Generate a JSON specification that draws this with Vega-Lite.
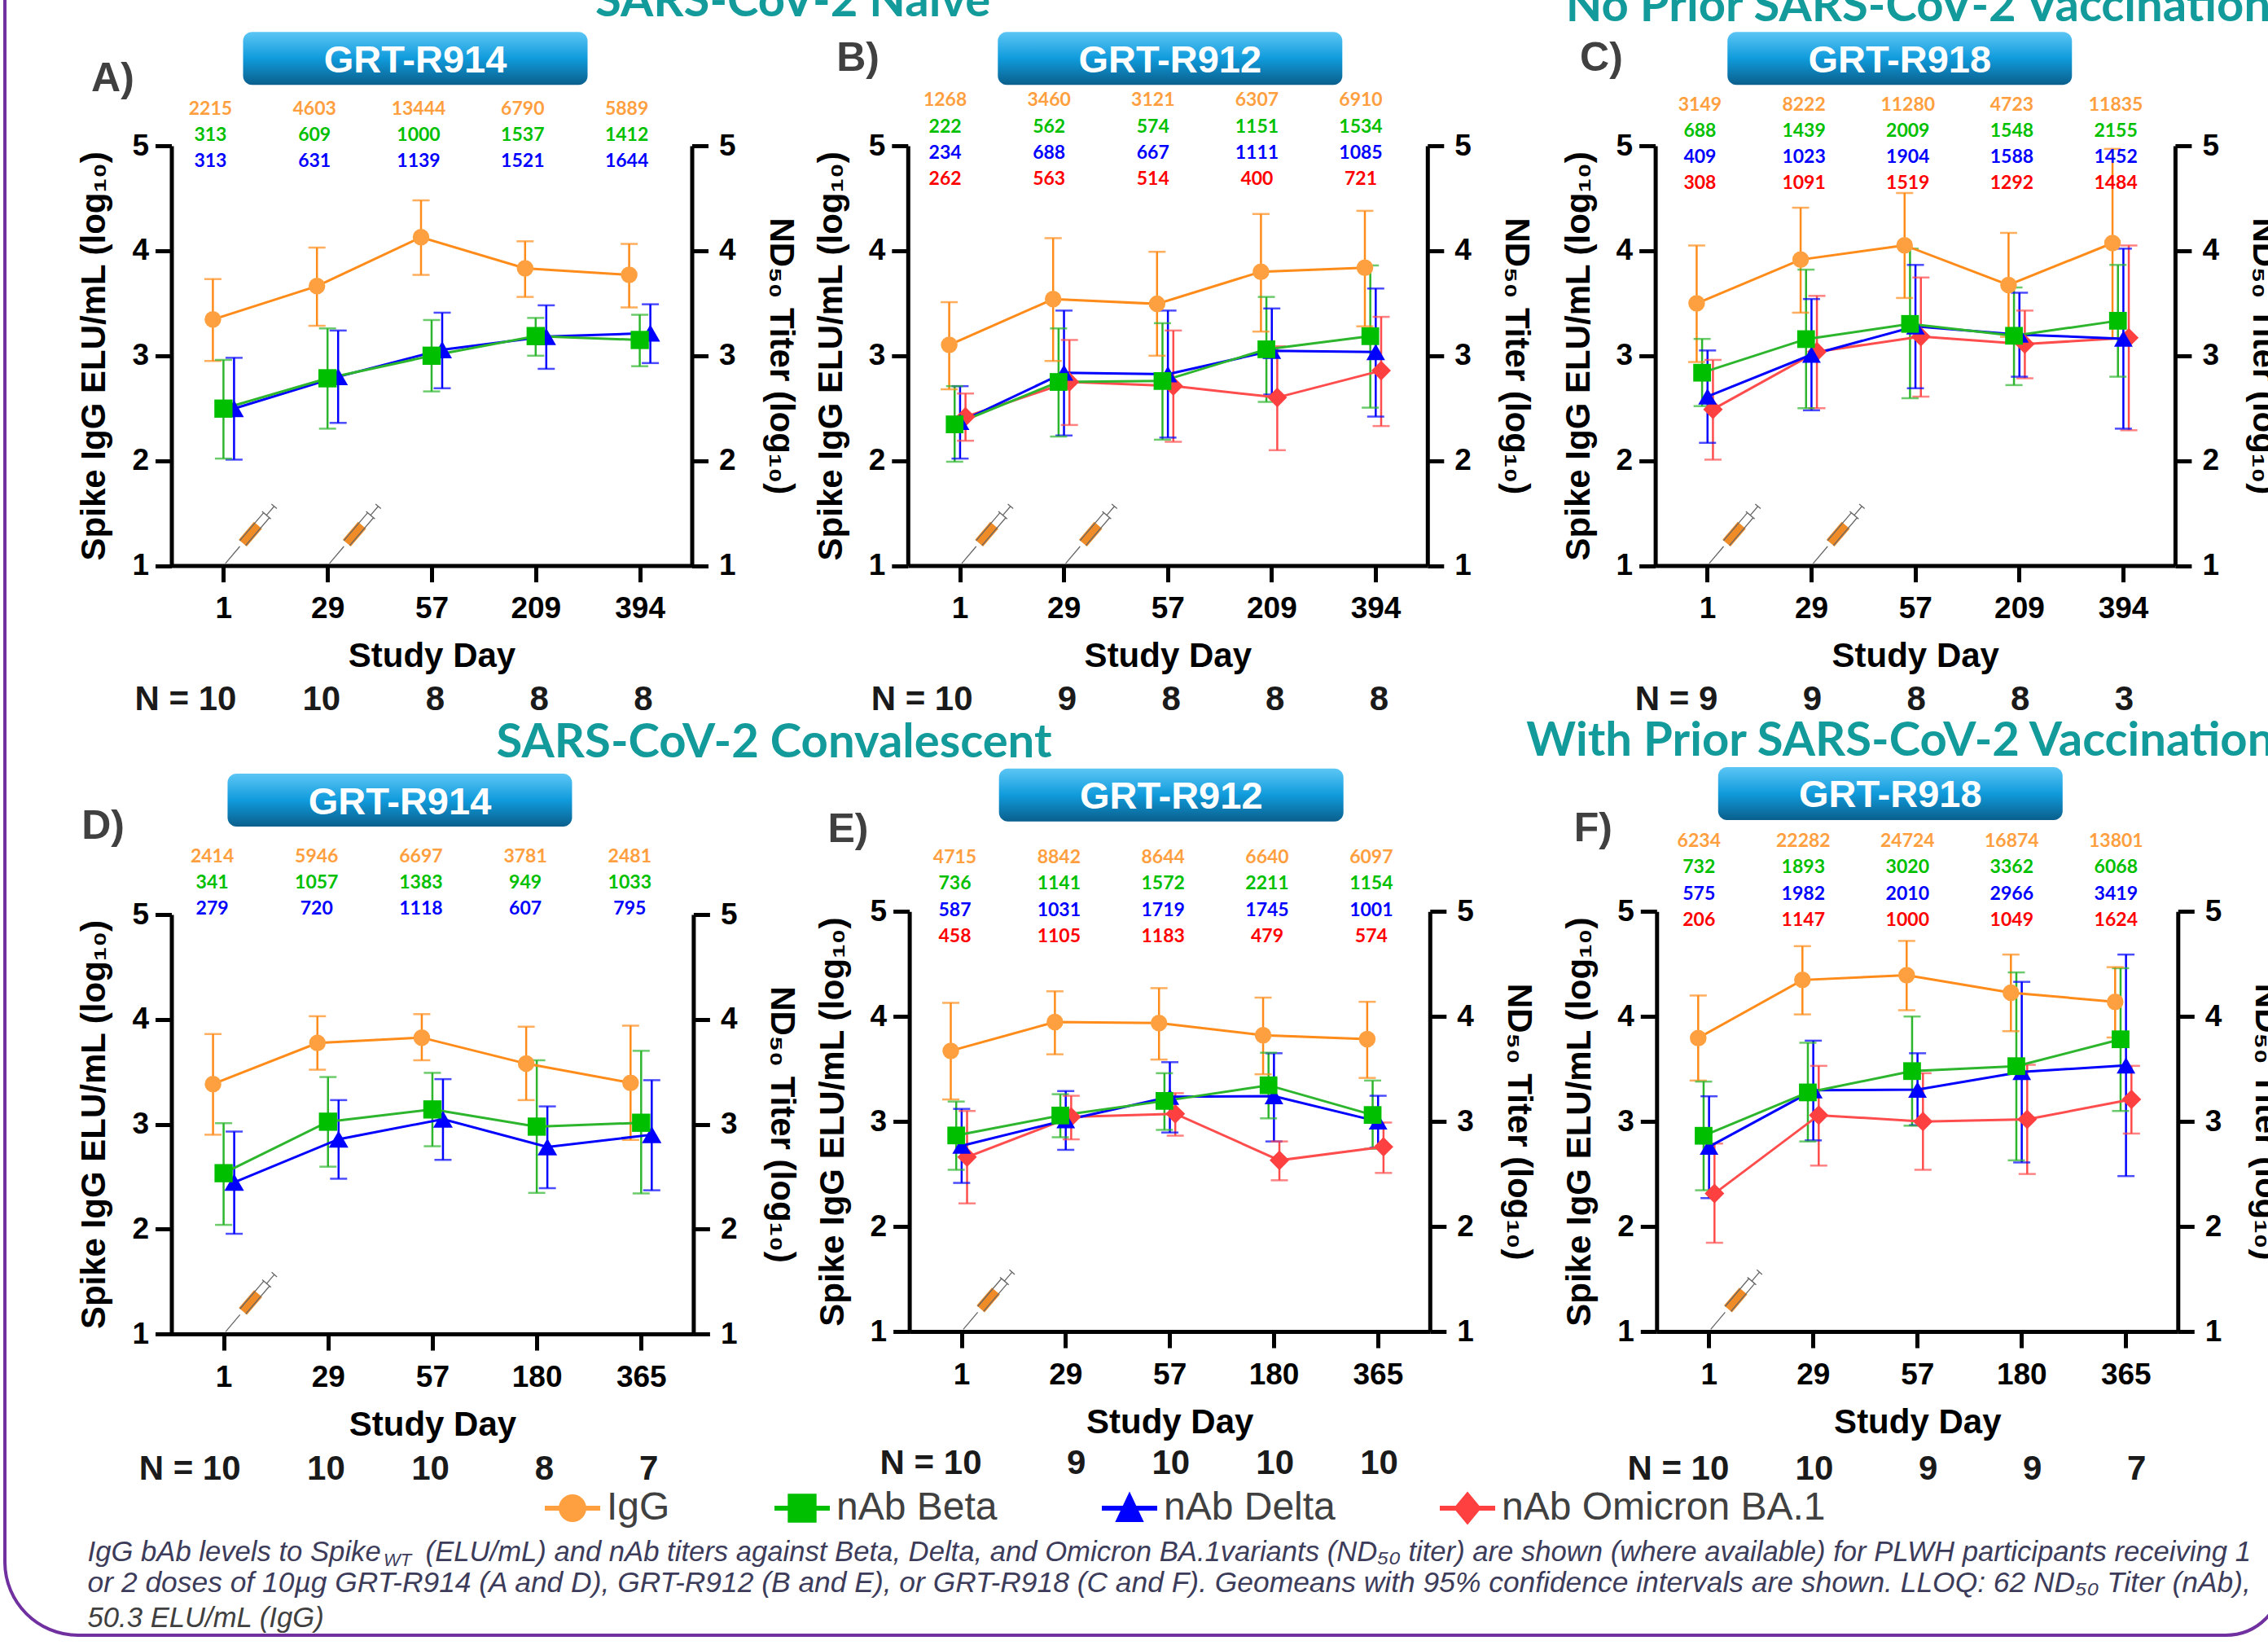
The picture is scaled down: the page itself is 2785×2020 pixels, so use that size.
{"$schema":"https://vega.github.io/schema/vega-lite/v6.json","width":2785,"height":2020,"autosize":"none","padding":0,"background":"white","data":{"values":[{}]},
"config":{"view":{"stroke":null},"font":"Liberation Sans","legend":{"disable":true},"range":{"category":["#FF8C1A","#2DB52D","#0000FF","#FF4D4D"],"symbol":["circle","square","triangle-up","diamond"]},"point":{"opacity":1},"axis":{"grid":false,"domainColor":"black","domainWidth":5,"tickColor":"black","tickWidth":5,"tickSize":20,"labelColor":"black","labelFont":"Liberation Sans","labelFontWeight":"bold","labelFontSize":37,"titleColor":"black","titleFont":"Liberation Sans","titleFontWeight":"bold","titleFontSize":42}},
"datasets":{
"A":[
{"day":1,"s":"nAb Delta","g":2.496,"lo":2.01,"hi":2.98,"gmt":313},{"day":29,"s":"nAb Delta","g":2.8,"lo":2.36,"hi":3.24,"gmt":631},{"day":57,"s":"nAb Delta","g":3.057,"lo":2.69,"hi":3.41,"gmt":1139},{"day":209,"s":"nAb Delta","g":3.182,"lo":2.875,"hi":3.48,"gmt":1521},{"day":394,"s":"nAb Delta","g":3.216,"lo":2.93,"hi":3.49,"gmt":1644},
{"day":1,"s":"nAb Beta","g":2.496,"lo":2.02,"hi":2.96,"gmt":313},{"day":29,"s":"nAb Beta","g":2.785,"lo":2.305,"hi":3.26,"gmt":609},{"day":57,"s":"nAb Beta","g":3,"lo":2.66,"hi":3.34,"gmt":1000},{"day":209,"s":"nAb Beta","g":3.187,"lo":3,"hi":3.36,"gmt":1537},{"day":394,"s":"nAb Beta","g":3.15,"lo":2.9,"hi":3.39,"gmt":1412},
{"day":1,"s":"IgG","g":3.345,"lo":2.95,"hi":3.73,"gmt":2215},{"day":29,"s":"IgG","g":3.663,"lo":3.285,"hi":4.03,"gmt":4603},{"day":57,"s":"IgG","g":4.129,"lo":3.77,"hi":4.48,"gmt":13444},{"day":209,"s":"IgG","g":3.832,"lo":3.56,"hi":4.09,"gmt":6790},{"day":394,"s":"IgG","g":3.77,"lo":3.46,"hi":4.065,"gmt":5889}],
"B":[
{"day":1,"s":"nAb Omicron BA.1","g":2.418,"lo":2.19,"hi":2.64,"gmt":262},{"day":29,"s":"nAb Omicron BA.1","g":2.751,"lo":2.34,"hi":3.15,"gmt":563},{"day":57,"s":"nAb Omicron BA.1","g":2.711,"lo":2.18,"hi":3.24,"gmt":514},{"day":209,"s":"nAb Omicron BA.1","g":2.602,"lo":2.1,"hi":3.09,"gmt":400},{"day":394,"s":"nAb Omicron BA.1","g":2.858,"lo":2.33,"hi":3.37,"gmt":721},
{"day":1,"s":"nAb Delta","g":2.369,"lo":2.02,"hi":2.71,"gmt":234},{"day":29,"s":"nAb Delta","g":2.838,"lo":2.24,"hi":3.43,"gmt":688},{"day":57,"s":"nAb Delta","g":2.824,"lo":2.22,"hi":3.43,"gmt":667},{"day":209,"s":"nAb Delta","g":3.046,"lo":2.63,"hi":3.45,"gmt":1111},{"day":394,"s":"nAb Delta","g":3.035,"lo":2.42,"hi":3.64,"gmt":1085},
{"day":1,"s":"nAb Beta","g":2.346,"lo":1.99,"hi":2.71,"gmt":222},{"day":29,"s":"nAb Beta","g":2.75,"lo":2.23,"hi":3.26,"gmt":562},{"day":57,"s":"nAb Beta","g":2.759,"lo":2.2,"hi":3.31,"gmt":574},{"day":209,"s":"nAb Beta","g":3.061,"lo":2.56,"hi":3.56,"gmt":1151},{"day":394,"s":"nAb Beta","g":3.186,"lo":2.505,"hi":3.86,"gmt":1534},
{"day":1,"s":"IgG","g":3.103,"lo":2.68,"hi":3.51,"gmt":1268},{"day":29,"s":"IgG","g":3.539,"lo":2.95,"hi":4.12,"gmt":3460},{"day":57,"s":"IgG","g":3.494,"lo":3,"hi":3.99,"gmt":3121},{"day":209,"s":"IgG","g":3.8,"lo":3.23,"hi":4.35,"gmt":6307},{"day":394,"s":"IgG","g":3.839,"lo":3.28,"hi":4.38,"gmt":6910}],
"C":[
{"day":1,"s":"nAb Omicron BA.1","g":2.489,"lo":2.01,"hi":2.96,"gmt":308},{"day":29,"s":"nAb Omicron BA.1","g":3.038,"lo":2.5,"hi":3.57,"gmt":1091},{"day":57,"s":"nAb Omicron BA.1","g":3.182,"lo":2.61,"hi":3.745,"gmt":1519},{"day":209,"s":"nAb Omicron BA.1","g":3.111,"lo":2.785,"hi":3.43,"gmt":1292},{"day":394,"s":"nAb Omicron BA.1","g":3.171,"lo":2.29,"hi":4.05,"gmt":1484},
{"day":1,"s":"nAb Delta","g":2.612,"lo":2.17,"hi":3.05,"gmt":409},{"day":29,"s":"nAb Delta","g":3.01,"lo":2.48,"hi":3.54,"gmt":1023},{"day":57,"s":"nAb Delta","g":3.28,"lo":2.69,"hi":3.865,"gmt":1904},{"day":209,"s":"nAb Delta","g":3.201,"lo":2.8,"hi":3.6,"gmt":1588},{"day":394,"s":"nAb Delta","g":3.162,"lo":2.305,"hi":4.02,"gmt":1452},
{"day":1,"s":"nAb Beta","g":2.838,"lo":2.52,"hi":3.16,"gmt":688},{"day":29,"s":"nAb Beta","g":3.158,"lo":2.5,"hi":3.82,"gmt":1439},{"day":57,"s":"nAb Beta","g":3.303,"lo":2.595,"hi":4.02,"gmt":2009},{"day":209,"s":"nAb Beta","g":3.19,"lo":2.72,"hi":3.65,"gmt":1548},{"day":394,"s":"nAb Beta","g":3.333,"lo":2.8,"hi":3.865,"gmt":2155},
{"day":1,"s":"IgG","g":3.498,"lo":2.94,"hi":4.05,"gmt":3149},{"day":29,"s":"IgG","g":3.915,"lo":3.41,"hi":4.41,"gmt":8222},{"day":57,"s":"IgG","g":4.052,"lo":3.55,"hi":4.55,"gmt":11280},{"day":209,"s":"IgG","g":3.674,"lo":3.18,"hi":4.17,"gmt":4723},{"day":394,"s":"IgG","g":4.073,"lo":3.165,"hi":4.97,"gmt":11835}],
"D":[
{"day":1,"s":"nAb Delta","g":2.446,"lo":1.955,"hi":2.93,"gmt":279},{"day":29,"s":"nAb Delta","g":2.857,"lo":2.48,"hi":3.23,"gmt":720},{"day":57,"s":"nAb Delta","g":3.048,"lo":2.66,"hi":3.43,"gmt":1118},{"day":180,"s":"nAb Delta","g":2.783,"lo":2.39,"hi":3.17,"gmt":607},{"day":365,"s":"nAb Delta","g":2.9,"lo":2.37,"hi":3.42,"gmt":795},
{"day":1,"s":"nAb Beta","g":2.533,"lo":2.04,"hi":3.01,"gmt":341},{"day":29,"s":"nAb Beta","g":3.024,"lo":2.595,"hi":3.45,"gmt":1057},{"day":57,"s":"nAb Beta","g":3.141,"lo":2.79,"hi":3.49,"gmt":1383},{"day":180,"s":"nAb Beta","g":2.977,"lo":2.345,"hi":3.61,"gmt":949},{"day":365,"s":"nAb Beta","g":3.014,"lo":2.34,"hi":3.7,"gmt":1033},
{"day":1,"s":"IgG","g":3.383,"lo":2.9,"hi":3.86,"gmt":2414},{"day":29,"s":"IgG","g":3.774,"lo":3.52,"hi":4.03,"gmt":5946},{"day":57,"s":"IgG","g":3.826,"lo":3.61,"hi":4.05,"gmt":6697},{"day":180,"s":"IgG","g":3.578,"lo":3.23,"hi":3.93,"gmt":3781},{"day":365,"s":"IgG","g":3.395,"lo":2.85,"hi":3.94,"gmt":2481}],
"E":[
{"day":1,"s":"nAb Omicron BA.1","g":2.661,"lo":2.22,"hi":3.1,"gmt":458},{"day":29,"s":"nAb Omicron BA.1","g":3.043,"lo":2.83,"hi":3.245,"gmt":1105},{"day":57,"s":"nAb Omicron BA.1","g":3.073,"lo":2.865,"hi":3.27,"gmt":1183},{"day":180,"s":"nAb Omicron BA.1","g":2.63,"lo":2.44,"hi":2.81,"gmt":479},{"day":365,"s":"nAb Omicron BA.1","g":2.759,"lo":2.51,"hi":2.99,"gmt":574},
{"day":1,"s":"nAb Delta","g":2.769,"lo":2.415,"hi":3.12,"gmt":587},{"day":29,"s":"nAb Delta","g":3.013,"lo":2.73,"hi":3.29,"gmt":1031},{"day":57,"s":"nAb Delta","g":3.235,"lo":2.895,"hi":3.565,"gmt":1719},{"day":180,"s":"nAb Delta","g":3.242,"lo":2.81,"hi":3.65,"gmt":1745},{"day":365,"s":"nAb Delta","g":3,"lo":2.75,"hi":3.245,"gmt":1001},
{"day":1,"s":"nAb Beta","g":2.867,"lo":2.54,"hi":3.19,"gmt":736},{"day":29,"s":"nAb Beta","g":3.057,"lo":2.85,"hi":3.26,"gmt":1141},{"day":57,"s":"nAb Beta","g":3.196,"lo":2.92,"hi":3.46,"gmt":1572},{"day":180,"s":"nAb Beta","g":3.345,"lo":3.03,"hi":3.655,"gmt":2211},{"day":365,"s":"nAb Beta","g":3.062,"lo":2.74,"hi":3.39,"gmt":1154},
{"day":1,"s":"IgG","g":3.673,"lo":3.21,"hi":4.13,"gmt":4715},{"day":29,"s":"IgG","g":3.947,"lo":3.64,"hi":4.24,"gmt":8842},{"day":57,"s":"IgG","g":3.937,"lo":3.59,"hi":4.27,"gmt":8644},{"day":180,"s":"IgG","g":3.822,"lo":3.45,"hi":4.18,"gmt":6640},{"day":365,"s":"IgG","g":3.785,"lo":3.415,"hi":4.14,"gmt":6097}],
"F":[
{"day":1,"s":"nAb Omicron BA.1","g":2.314,"lo":1.845,"hi":2.79,"gmt":206},{"day":29,"s":"nAb Omicron BA.1","g":3.06,"lo":2.58,"hi":3.53,"gmt":1147},{"day":57,"s":"nAb Omicron BA.1","g":3,"lo":2.54,"hi":3.46,"gmt":1000},{"day":180,"s":"nAb Omicron BA.1","g":3.021,"lo":2.5,"hi":3.54,"gmt":1049},{"day":365,"s":"nAb Omicron BA.1","g":3.21,"lo":2.885,"hi":3.53,"gmt":1624},
{"day":1,"s":"nAb Delta","g":2.76,"lo":2.27,"hi":3.24,"gmt":575},{"day":29,"s":"nAb Delta","g":3.297,"lo":2.82,"hi":3.77,"gmt":1982},{"day":57,"s":"nAb Delta","g":3.303,"lo":2.965,"hi":3.65,"gmt":2010},{"day":180,"s":"nAb Delta","g":3.472,"lo":2.61,"hi":4.33,"gmt":2966},{"day":365,"s":"nAb Delta","g":3.534,"lo":2.48,"hi":4.59,"gmt":3419},
{"day":1,"s":"nAb Beta","g":2.864,"lo":2.345,"hi":3.38,"gmt":732},{"day":29,"s":"nAb Beta","g":3.277,"lo":2.81,"hi":3.75,"gmt":1893},{"day":57,"s":"nAb Beta","g":3.48,"lo":2.96,"hi":4,"gmt":3020},{"day":180,"s":"nAb Beta","g":3.527,"lo":2.63,"hi":4.42,"gmt":3362},{"day":365,"s":"nAb Beta","g":3.783,"lo":3.1,"hi":4.46,"gmt":6068},
{"day":1,"s":"IgG","g":3.795,"lo":3.39,"hi":4.2,"gmt":6234},{"day":29,"s":"IgG","g":4.348,"lo":4.02,"hi":4.67,"gmt":22282},{"day":57,"s":"IgG","g":4.393,"lo":4.06,"hi":4.72,"gmt":24724},{"day":180,"s":"IgG","g":4.227,"lo":3.86,"hi":4.59,"gmt":16874},{"day":365,"s":"IgG","g":4.14,"lo":3.8,"hi":4.47,"gmt":13801}]
},
"layer":[
{"mark":{"type":"rect","fillOpacity":0,"stroke":"#7030A0","strokeWidth":4,"cornerRadiusBottomLeft":90,"cornerRadiusBottomRight":70},"encoding":{"x":{"datum":0,"type":"quantitative","scale":{"domain":[0,1],"range":[6,2803]},"axis":null},"x2":{"datum":1},"y":{"datum":1,"type":"quantitative","scale":{"domain":[0,1],"range":[2008,-20]},"axis":null},"y2":{"datum":0}}},

{"encoding":{"x":{"field":"day","type":"ordinal","scale":{"type":"point","padding":0.5,"domain":[1,29,57,209,394],"range":[210.5,849.5]},"axis":{"orient":"bottom","title":"Study Day","labelAngle":0,"offset":-1325.4,"labelPadding":15,"titlePadding":20}}},
"layer":[
{"layer":[
{"data":{"name":"A"},"encoding":{"xOffset":{"field":"s","type":"nominal","scale":{"type":"point","padding":0,"range":[-13,13]}},"color":{"field":"s","type":"nominal"}},"layer":[
{"mark":{"type":"rule","strokeWidth":2.5},"encoding":{"y":{"field":"lo","type":"quantitative","scale":{"domain":[1,5],"range":[694.6,179],"zero":false,"nice":false},"axis":{"orient":"left","title":"Spike IgG ELU/mL (log₁₀)","format":"d","values":[1,2,3,4,5],"offset":-210.5,"labelPadding":8,"titlePadding":24}},"y2":{"field":"hi"}}},
{"mark":{"type":"tick","orient":"horizontal","size":21,"thickness":2.5},"encoding":{"y":{"field":"lo","type":"quantitative"}}},
{"mark":{"type":"tick","orient":"horizontal","size":21,"thickness":2.5},"encoding":{"y":{"field":"hi","type":"quantitative"}}},
{"mark":{"type":"line","strokeWidth":3},"encoding":{"y":{"field":"g","type":"quantitative"}}},
{"mark":{"type":"point","filled":true,"strokeWidth":0},"encoding":{"y":{"field":"g","type":"quantitative"},"color":null,"fill":{"field":"s","type":"nominal","scale":{"range":["#FFA040","#00BF00","#0000FF","#FF4040"]}},"shape":{"field":"s","type":"nominal"},"size":{"field":"s","type":"nominal","scale":{"range":[420,580,650,560]}}}}]},
{"data":{"values":[{"day":1},{"day":29}]},"mark":{"type":"point","shape":"M-.397 .187L-.123 .421L.397 -.187L.123 -.421Z","filled":true,"fill":"#F08C28","strokeWidth":0,"size":5184,"xOffset":33},"encoding":{"y":{"datum":1.3,"type":"quantitative"}}},
{"data":{"values":[{"day":1},{"day":29}]},"mark":{"type":"point","shape":"M-.85 1L-.358 .418M-.161 .389L.65 -.56L.4535 -.73L-.359 .22M.5525 -.646L.8125 -.95M.904 -.872L.721 -1.028M.7 -.516L.4 -.776","filled":false,"stroke":"#666666","strokeWidth":1.3,"size":5184,"xOffset":33},"encoding":{"y":{"datum":1.3,"type":"quantitative"}}},
{"data":{"values":[{"day":1,"n":"N = 10"},{"day":29,"n":"10"},{"day":57,"n":"8"},{"day":209,"n":"8"},{"day":394,"n":"8"}]},"mark":{"type":"text","align":"right","dx":16,"fontSize":42,"fontWeight":"bold","color":"#1A1A1A"},"encoding":{"y":{"datum":-0.276,"type":"quantitative"},"text":{"field":"n"}}},
{"mark":{"type":"text","text":"A)","dx":-136,"fontSize":50,"fontWeight":"bold","color":"#404040"},"encoding":{"x":{"datum":1,"type":"ordinal"},"y":{"datum":5.64,"type":"quantitative"}}},
{"mark":{"type":"rect","width":423,"height":65,"xOffset":-20,"cornerRadius":11,"fill":{"x1":0,"y1":0,"x2":0,"y2":1,"gradient":"linear","stops":[{"offset":0,"color":"#5CC6F5"},{"offset":0.5,"color":"#109BDC"},{"offset":1,"color":"#0A5F8C"}]}},"encoding":{"x":{"datum":57,"type":"ordinal"},"y":{"datum":5.833,"type":"quantitative"}}},
{"mark":{"type":"text","text":"GRT-R914","dx":-20,"dy":3,"fontSize":47,"fontWeight":"bold","color":"white"},"encoding":{"x":{"datum":57,"type":"ordinal"},"y":{"datum":5.833,"type":"quantitative"}}}
]},
{"data":{"name":"A"},"mark":{"type":"text","dx":-16,"fontSize":23,"font":"Lato","fontWeight":"bold"},"encoding":{"y":{"field":"s","type":"nominal","scale":{"type":"point","padding":0,"range":[133.8,198]},"axis":null},"text":{"field":"gmt","type":"nominal"},"color":{"field":"s","type":"nominal","scale":{"range":["#FF9F40","#00C000","#0000FF","#FF0000"]}}}},
{"mark":{"type":"point","opacity":0},"encoding":{"x":{"datum":1,"type":"ordinal"},"y":{"datum":1,"type":"quantitative","scale":{"domain":[1,5],"range":[694.6,179]},"axis":{"orient":"right","title":"ND₅₀ Titer (log₁₀)","values":[1,2,3,4,5],"offset":-1935.5,"labelPadding":13,"titlePadding":33}}}}
],"resolve":{"scale":{"y":"independent","color":"independent"},"axis":{"y":"independent"}}},

{"encoding":{"x":{"field":"day","type":"ordinal","scale":{"type":"point","padding":0.5,"domain":[1,29,57,209,394],"range":[1114.8,1752.8]},"axis":{"orient":"bottom","title":"Study Day","labelAngle":0,"offset":-1325.4,"labelPadding":15,"titlePadding":20}}},
"layer":[
{"layer":[
{"data":{"name":"B"},"encoding":{"xOffset":{"field":"s","type":"nominal","scale":{"type":"point","padding":0,"range":[-13,7]}},"color":{"field":"s","type":"nominal"}},"layer":[
{"mark":{"type":"rule","strokeWidth":2.5},"encoding":{"y":{"field":"lo","type":"quantitative","scale":{"domain":[1,5],"range":[694.6,179],"zero":false,"nice":false},"axis":{"orient":"left","title":"Spike IgG ELU/mL (log₁₀)","format":"d","values":[1,2,3,4,5],"offset":-1114.8,"labelPadding":8,"titlePadding":24}},"y2":{"field":"hi"}}},
{"mark":{"type":"tick","orient":"horizontal","size":21,"thickness":2.5},"encoding":{"y":{"field":"lo","type":"quantitative"}}},
{"mark":{"type":"tick","orient":"horizontal","size":21,"thickness":2.5},"encoding":{"y":{"field":"hi","type":"quantitative"}}},
{"mark":{"type":"line","strokeWidth":3},"encoding":{"y":{"field":"g","type":"quantitative"}}},
{"mark":{"type":"point","filled":true,"strokeWidth":0},"encoding":{"y":{"field":"g","type":"quantitative"},"color":null,"fill":{"field":"s","type":"nominal","scale":{"range":["#FFA040","#00BF00","#0000FF","#FF4040"]}},"shape":{"field":"s","type":"nominal"},"size":{"field":"s","type":"nominal","scale":{"range":[420,580,650,560]}}}}]},
{"data":{"values":[{"day":1},{"day":29}]},"mark":{"type":"point","shape":"M-.397 .187L-.123 .421L.397 -.187L.123 -.421Z","filled":true,"fill":"#F08C28","strokeWidth":0,"size":5184,"xOffset":33},"encoding":{"y":{"datum":1.3,"type":"quantitative"}}},
{"data":{"values":[{"day":1},{"day":29}]},"mark":{"type":"point","shape":"M-.85 1L-.358 .418M-.161 .389L.65 -.56L.4535 -.73L-.359 .22M.5525 -.646L.8125 -.95M.904 -.872L.721 -1.028M.7 -.516L.4 -.776","filled":false,"stroke":"#666666","strokeWidth":1.3,"size":5184,"xOffset":33},"encoding":{"y":{"datum":1.3,"type":"quantitative"}}},
{"data":{"values":[{"day":1,"n":"N = 10"},{"day":29,"n":"9"},{"day":57,"n":"8"},{"day":209,"n":"8"},{"day":394,"n":"8"}]},"mark":{"type":"text","align":"right","dx":16,"fontSize":42,"fontWeight":"bold","color":"#1A1A1A"},"encoding":{"y":{"datum":-0.276,"type":"quantitative"},"text":{"field":"n"}}},
{"mark":{"type":"text","text":"B)","dx":-125,"fontSize":50,"fontWeight":"bold","color":"#404040"},"encoding":{"x":{"datum":1,"type":"ordinal"},"y":{"datum":5.833,"type":"quantitative"}}},
{"mark":{"type":"rect","width":423,"height":65,"xOffset":3,"cornerRadius":11,"fill":{"x1":0,"y1":0,"x2":0,"y2":1,"gradient":"linear","stops":[{"offset":0,"color":"#5CC6F5"},{"offset":0.5,"color":"#109BDC"},{"offset":1,"color":"#0A5F8C"}]}},"encoding":{"x":{"datum":57,"type":"ordinal"},"y":{"datum":5.833,"type":"quantitative"}}},
{"mark":{"type":"text","text":"GRT-R912","dx":3,"dy":3,"fontSize":47,"fontWeight":"bold","color":"white"},"encoding":{"x":{"datum":57,"type":"ordinal"},"y":{"datum":5.833,"type":"quantitative"}}},
{"mark":{"type":"text","text":"SARS-CoV-2 Naive","dx":-205,"baseline":"alphabetic","font":"Lato","fontSize":58,"fontWeight":"bold","color":"#139B9B"},"encoding":{"x":{"datum":1,"type":"ordinal"},"y":{"datum":6.235,"type":"quantitative"}}}
]},
{"data":{"name":"B"},"mark":{"type":"text","dx":-18,"fontSize":23,"font":"Lato","fontWeight":"bold"},"encoding":{"y":{"field":"s","type":"nominal","scale":{"type":"point","padding":0,"range":[123.4,219.9]},"axis":null},"text":{"field":"gmt","type":"nominal"},"color":{"field":"s","type":"nominal","scale":{"range":["#FF9F40","#00C000","#0000FF","#FF0000"]}}}},
{"mark":{"type":"point","opacity":0},"encoding":{"x":{"datum":1,"type":"ordinal"},"y":{"datum":1,"type":"quantitative","scale":{"domain":[1,5],"range":[694.6,179]},"axis":{"orient":"right","title":"ND₅₀ Titer (log₁₀)","values":[1,2,3,4,5],"offset":-1032.2,"labelPadding":13,"titlePadding":33}}}}
],"resolve":{"scale":{"y":"independent","color":"independent"},"axis":{"y":"independent"}}},

{"encoding":{"x":{"field":"day","type":"ordinal","scale":{"type":"point","padding":0.5,"domain":[1,29,57,209,394],"range":[2032.6,2670.9]},"axis":{"orient":"bottom","title":"Study Day","labelAngle":0,"offset":-1325.4,"labelPadding":15,"titlePadding":20}}},
"layer":[
{"layer":[
{"data":{"name":"C"},"encoding":{"xOffset":{"field":"s","type":"nominal","scale":{"type":"point","padding":0,"range":[-13,7]}},"color":{"field":"s","type":"nominal"}},"layer":[
{"mark":{"type":"rule","strokeWidth":2.5},"encoding":{"y":{"field":"lo","type":"quantitative","scale":{"domain":[1,5],"range":[694.6,179],"zero":false,"nice":false},"axis":{"orient":"left","title":"Spike IgG ELU/mL (log₁₀)","format":"d","values":[1,2,3,4,5],"offset":-2032.6,"labelPadding":8,"titlePadding":24}},"y2":{"field":"hi"}}},
{"mark":{"type":"tick","orient":"horizontal","size":21,"thickness":2.5},"encoding":{"y":{"field":"lo","type":"quantitative"}}},
{"mark":{"type":"tick","orient":"horizontal","size":21,"thickness":2.5},"encoding":{"y":{"field":"hi","type":"quantitative"}}},
{"mark":{"type":"line","strokeWidth":3},"encoding":{"y":{"field":"g","type":"quantitative"}}},
{"mark":{"type":"point","filled":true,"strokeWidth":0},"encoding":{"y":{"field":"g","type":"quantitative"},"color":null,"fill":{"field":"s","type":"nominal","scale":{"range":["#FFA040","#00BF00","#0000FF","#FF4040"]}},"shape":{"field":"s","type":"nominal"},"size":{"field":"s","type":"nominal","scale":{"range":[420,580,650,560]}}}}]},
{"data":{"values":[{"day":1},{"day":29}]},"mark":{"type":"point","shape":"M-.397 .187L-.123 .421L.397 -.187L.123 -.421Z","filled":true,"fill":"#F08C28","strokeWidth":0,"size":5184,"xOffset":33},"encoding":{"y":{"datum":1.3,"type":"quantitative"}}},
{"data":{"values":[{"day":1},{"day":29}]},"mark":{"type":"point","shape":"M-.85 1L-.358 .418M-.161 .389L.65 -.56L.4535 -.73L-.359 .22M.5525 -.646L.8125 -.95M.904 -.872L.721 -1.028M.7 -.516L.4 -.776","filled":false,"stroke":"#666666","strokeWidth":1.3,"size":5184,"xOffset":33},"encoding":{"y":{"datum":1.3,"type":"quantitative"}}},
{"data":{"values":[{"day":1,"n":"N = 9"},{"day":29,"n":"9"},{"day":57,"n":"8"},{"day":209,"n":"8"},{"day":394,"n":"3"}]},"mark":{"type":"text","align":"right","dx":13,"fontSize":42,"fontWeight":"bold","color":"#1A1A1A"},"encoding":{"y":{"datum":-0.276,"type":"quantitative"},"text":{"field":"n"}}},
{"mark":{"type":"text","text":"C)","dx":-130,"fontSize":50,"fontWeight":"bold","color":"#404040"},"encoding":{"x":{"datum":1,"type":"ordinal"},"y":{"datum":5.833,"type":"quantitative"}}},
{"mark":{"type":"rect","width":423,"height":65,"xOffset":-19,"cornerRadius":11,"fill":{"x1":0,"y1":0,"x2":0,"y2":1,"gradient":"linear","stops":[{"offset":0,"color":"#5CC6F5"},{"offset":0.5,"color":"#109BDC"},{"offset":1,"color":"#0A5F8C"}]}},"encoding":{"x":{"datum":57,"type":"ordinal"},"y":{"datum":5.833,"type":"quantitative"}}},
{"mark":{"type":"text","text":"GRT-R918","dx":-19,"dy":3,"fontSize":47,"fontWeight":"bold","color":"white"},"encoding":{"x":{"datum":57,"type":"ordinal"},"y":{"datum":5.833,"type":"quantitative"}}},
{"mark":{"type":"text","text":"No Prior SARS-CoV-2 Vaccination","align":"left","dx":-173.8,"baseline":"alphabetic","font":"Lato","fontSize":58,"fontWeight":"bold","color":"#139B9B"},"encoding":{"x":{"datum":1,"type":"ordinal"},"y":{"datum":6.19,"type":"quantitative"}}}
]},
{"data":{"name":"C"},"mark":{"type":"text","dx":-9,"fontSize":23,"font":"Lato","fontWeight":"bold"},"encoding":{"y":{"field":"s","type":"nominal","scale":{"type":"point","padding":0,"range":[128.5,225]},"axis":null},"text":{"field":"gmt","type":"nominal"},"color":{"field":"s","type":"nominal","scale":{"range":["#FF9F40","#00C000","#0000FF","#FF0000"]}}}},
{"mark":{"type":"point","opacity":0},"encoding":{"x":{"datum":1,"type":"ordinal"},"y":{"datum":1,"type":"quantitative","scale":{"domain":[1,5],"range":[694.6,179]},"axis":{"orient":"right","title":"ND₅₀ Titer (log₁₀)","values":[1,2,3,4,5],"offset":-114.1,"labelPadding":13,"titlePadding":33}}}}
],"resolve":{"scale":{"y":"independent","color":"independent"},"axis":{"y":"independent"}}},

{"encoding":{"x":{"field":"day","type":"ordinal","scale":{"type":"point","padding":0.5,"domain":[1,29,57,180,365],"range":[210.5,851.4]},"axis":{"orient":"bottom","title":"Study Day","labelAngle":0,"offset":-382,"labelPadding":15,"titlePadding":20}}},
"layer":[
{"layer":[
{"data":{"name":"D"},"encoding":{"xOffset":{"field":"s","type":"nominal","scale":{"type":"point","padding":0,"range":[-13,13]}},"color":{"field":"s","type":"nominal"}},"layer":[
{"mark":{"type":"rule","strokeWidth":2.5},"encoding":{"y":{"field":"lo","type":"quantitative","scale":{"domain":[1,5],"range":[1638,1123],"zero":false,"nice":false},"axis":{"orient":"left","title":"Spike IgG ELU/mL (log₁₀)","format":"d","values":[1,2,3,4,5],"offset":-210.5,"labelPadding":8,"titlePadding":24}},"y2":{"field":"hi"}}},
{"mark":{"type":"tick","orient":"horizontal","size":21,"thickness":2.5},"encoding":{"y":{"field":"lo","type":"quantitative"}}},
{"mark":{"type":"tick","orient":"horizontal","size":21,"thickness":2.5},"encoding":{"y":{"field":"hi","type":"quantitative"}}},
{"mark":{"type":"line","strokeWidth":3},"encoding":{"y":{"field":"g","type":"quantitative"}}},
{"mark":{"type":"point","filled":true,"strokeWidth":0},"encoding":{"y":{"field":"g","type":"quantitative"},"color":null,"fill":{"field":"s","type":"nominal","scale":{"range":["#FFA040","#00BF00","#0000FF","#FF4040"]}},"shape":{"field":"s","type":"nominal"},"size":{"field":"s","type":"nominal","scale":{"range":[420,580,650,560]}}}}]},
{"data":{"values":[{"day":1}]},"mark":{"type":"point","shape":"M-.397 .187L-.123 .421L.397 -.187L.123 -.421Z","filled":true,"fill":"#F08C28","strokeWidth":0,"size":5184,"xOffset":33},"encoding":{"y":{"datum":1.3,"type":"quantitative"}}},
{"data":{"values":[{"day":1}]},"mark":{"type":"point","shape":"M-.85 1L-.358 .418M-.161 .389L.65 -.56L.4535 -.73L-.359 .22M.5525 -.646L.8125 -.95M.904 -.872L.721 -1.028M.7 -.516L.4 -.776","filled":false,"stroke":"#666666","strokeWidth":1.3,"size":5184,"xOffset":33},"encoding":{"y":{"datum":1.3,"type":"quantitative"}}},
{"data":{"values":[{"day":1,"n":"N = 10"},{"day":29,"n":"10"},{"day":57,"n":"10"},{"day":180,"n":"8"},{"day":365,"n":"7"}]},"mark":{"type":"text","align":"right","dx":21,"fontSize":42,"fontWeight":"bold","color":"#1A1A1A"},"encoding":{"y":{"datum":-0.289,"type":"quantitative"},"text":{"field":"n"}}},
{"mark":{"type":"text","text":"D)","dx":-148,"fontSize":50,"fontWeight":"bold","color":"#404040"},"encoding":{"x":{"datum":1,"type":"ordinal"},"y":{"datum":5.84,"type":"quantitative"}}},
{"mark":{"type":"rect","width":423,"height":65,"xOffset":-40,"cornerRadius":11,"fill":{"x1":0,"y1":0,"x2":0,"y2":1,"gradient":"linear","stops":[{"offset":0,"color":"#5CC6F5"},{"offset":0.5,"color":"#109BDC"},{"offset":1,"color":"#0A5F8C"}]}},"encoding":{"x":{"datum":57,"type":"ordinal"},"y":{"datum":6.091,"type":"quantitative"}}},
{"mark":{"type":"text","text":"GRT-R914","dx":-40,"dy":3,"fontSize":47,"fontWeight":"bold","color":"white"},"encoding":{"x":{"datum":57,"type":"ordinal"},"y":{"datum":6.091,"type":"quantitative"}}},
{"mark":{"type":"text","text":"IgG bAb levels to Spike","align":"left","baseline":"alphabetic","dx":-167,"fontSize":34.65,"fontStyle":"italic","color":"#3C3C5A"},"encoding":{"x":{"datum":1,"type":"ordinal"},"y":{"datum":-1.167,"type":"quantitative"}}},
{"mark":{"type":"text","text":"WT","align":"left","baseline":"alphabetic","dx":196.5,"fontSize":22,"fontStyle":"italic","color":"#3C3C5A"},"encoding":{"x":{"datum":1,"type":"ordinal"},"y":{"datum":-1.213,"type":"quantitative"}}},
{"mark":{"type":"text","text":"(ELU/mL) and nAb titers against Beta, Delta, and Omicron BA.1variants (ND₅₀ titer) are shown (where available) for PLWH participants receiving 1","align":"left","baseline":"alphabetic","dx":248,"fontSize":34.65,"fontStyle":"italic","color":"#3C3C5A"},"encoding":{"x":{"datum":1,"type":"ordinal"},"y":{"datum":-1.167,"type":"quantitative"}}},
{"mark":{"type":"text","text":"or 2 doses of 10µg GRT-R914 (A and D), GRT-R912 (B and E), or GRT-R918 (C and F). Geomeans with 95% confidence intervals are shown. LLOQ: 62 ND₅₀ Titer (nAb),","align":"left","baseline":"alphabetic","dx":-167,"fontSize":35.4,"fontStyle":"italic","color":"#3C3C5A"},"encoding":{"x":{"datum":1,"type":"ordinal"},"y":{"datum":-1.462,"type":"quantitative"}}},
{"mark":{"type":"text","text":"50.3 ELU/mL (IgG)","align":"left","baseline":"alphabetic","dx":-167,"fontSize":34.65,"fontStyle":"italic","color":"#404040"},"encoding":{"x":{"datum":1,"type":"ordinal"},"y":{"datum":-1.796,"type":"quantitative"}}}
]},
{"data":{"name":"D"},"mark":{"type":"text","dx":-14,"fontSize":23,"font":"Lato","fontWeight":"bold"},"encoding":{"y":{"field":"s","type":"nominal","scale":{"type":"point","padding":0,"range":[1052,1116.3]},"axis":null},"text":{"field":"gmt","type":"nominal"},"color":{"field":"s","type":"nominal","scale":{"range":["#FF9F40","#00C000","#0000FF","#FF0000"]}}}},
{"mark":{"type":"point","opacity":0},"encoding":{"x":{"datum":1,"type":"ordinal"},"y":{"datum":1,"type":"quantitative","scale":{"domain":[1,5],"range":[1638,1123]},"axis":{"orient":"right","title":"ND₅₀ Titer (log₁₀)","values":[1,2,3,4,5],"offset":-1933.6,"labelPadding":13,"titlePadding":33}}}}
],"resolve":{"scale":{"y":"independent","color":"independent"},"axis":{"y":"independent"}}},

{"encoding":{"x":{"field":"day","type":"ordinal","scale":{"type":"point","padding":0.5,"domain":[1,29,57,180,365],"range":[1116.6,1755.8]},"axis":{"orient":"bottom","title":"Study Day","labelAngle":0,"offset":-385,"labelPadding":15,"titlePadding":20}}},
"layer":[
{"layer":[
{"data":{"name":"E"},"encoding":{"xOffset":{"field":"s","type":"nominal","scale":{"type":"point","padding":0,"range":[-13,7]}},"color":{"field":"s","type":"nominal"}},"layer":[
{"mark":{"type":"rule","strokeWidth":2.5},"encoding":{"y":{"field":"lo","type":"quantitative","scale":{"domain":[1,5],"range":[1635,1119.3],"zero":false,"nice":false},"axis":{"orient":"left","title":"Spike IgG ELU/mL (log₁₀)","format":"d","values":[1,2,3,4,5],"offset":-1116.6,"labelPadding":8,"titlePadding":24}},"y2":{"field":"hi"}}},
{"mark":{"type":"tick","orient":"horizontal","size":21,"thickness":2.5},"encoding":{"y":{"field":"lo","type":"quantitative"}}},
{"mark":{"type":"tick","orient":"horizontal","size":21,"thickness":2.5},"encoding":{"y":{"field":"hi","type":"quantitative"}}},
{"mark":{"type":"line","strokeWidth":3},"encoding":{"y":{"field":"g","type":"quantitative"}}},
{"mark":{"type":"point","filled":true,"strokeWidth":0},"encoding":{"y":{"field":"g","type":"quantitative"},"color":null,"fill":{"field":"s","type":"nominal","scale":{"range":["#FFA040","#00BF00","#0000FF","#FF4040"]}},"shape":{"field":"s","type":"nominal"},"size":{"field":"s","type":"nominal","scale":{"range":[420,580,650,560]}}}}]},
{"data":{"values":[{"day":1}]},"mark":{"type":"point","shape":"M-.397 .187L-.123 .421L.397 -.187L.123 -.421Z","filled":true,"fill":"#F08C28","strokeWidth":0,"size":5184,"xOffset":33},"encoding":{"y":{"datum":1.3,"type":"quantitative"}}},
{"data":{"values":[{"day":1}]},"mark":{"type":"point","shape":"M-.85 1L-.358 .418M-.161 .389L.65 -.56L.4535 -.73L-.359 .22M.5525 -.646L.8125 -.95M.904 -.872L.721 -1.028M.7 -.516L.4 -.776","filled":false,"stroke":"#666666","strokeWidth":1.3,"size":5184,"xOffset":33},"encoding":{"y":{"datum":1.3,"type":"quantitative"}}},
{"data":{"values":[{"day":1,"n":"N = 10"},{"day":29,"n":"9"},{"day":57,"n":"10"},{"day":180,"n":"10"},{"day":365,"n":"10"}]},"mark":{"type":"text","align":"right","dx":25,"fontSize":42,"fontWeight":"bold","color":"#1A1A1A"},"encoding":{"y":{"datum":-0.257,"type":"quantitative"},"text":{"field":"n"}}},
{"mark":{"type":"text","text":"E)","dx":-139,"fontSize":50,"fontWeight":"bold","color":"#404040"},"encoding":{"x":{"datum":1,"type":"ordinal"},"y":{"datum":5.776,"type":"quantitative"}}},
{"mark":{"type":"rect","width":423,"height":65,"xOffset":2,"cornerRadius":11,"fill":{"x1":0,"y1":0,"x2":0,"y2":1,"gradient":"linear","stops":[{"offset":0,"color":"#5CC6F5"},{"offset":0.5,"color":"#109BDC"},{"offset":1,"color":"#0A5F8C"}]}},"encoding":{"x":{"datum":57,"type":"ordinal"},"y":{"datum":6.109,"type":"quantitative"}}},
{"mark":{"type":"text","text":"GRT-R912","dx":2,"dy":3,"fontSize":47,"fontWeight":"bold","color":"white"},"encoding":{"x":{"datum":57,"type":"ordinal"},"y":{"datum":6.109,"type":"quantitative"}}},
{"mark":{"type":"text","text":"SARS-CoV-2 Convalescent","dx":-230,"baseline":"alphabetic","font":"Lato","fontSize":58,"fontWeight":"bold","color":"#139B9B"},"encoding":{"x":{"datum":1,"type":"ordinal"},"y":{"datum":6.469,"type":"quantitative"}}}
]},
{"data":{"name":"E"},"mark":{"type":"text","dx":-8,"fontSize":23,"font":"Lato","fontWeight":"bold"},"encoding":{"y":{"field":"s","type":"nominal","scale":{"type":"point","padding":0,"range":[1053.3,1149.6]},"axis":null},"text":{"field":"gmt","type":"nominal"},"color":{"field":"s","type":"nominal","scale":{"range":["#FF9F40","#00C000","#0000FF","#FF0000"]}}}},
{"mark":{"type":"point","opacity":0},"encoding":{"x":{"datum":1,"type":"ordinal"},"y":{"datum":1,"type":"quantitative","scale":{"domain":[1,5],"range":[1635,1119.3]},"axis":{"orient":"right","title":"ND₅₀ Titer (log₁₀)","values":[1,2,3,4,5],"offset":-1029.2,"labelPadding":13,"titlePadding":33}}}}
],"resolve":{"scale":{"y":"independent","color":"independent"},"axis":{"y":"independent"}}},

{"encoding":{"x":{"field":"day","type":"ordinal","scale":{"type":"point","padding":0.5,"domain":[1,29,57,180,365],"range":[2034.3,2674.3]},"axis":{"orient":"bottom","title":"Study Day","labelAngle":0,"offset":-385,"labelPadding":15,"titlePadding":20}}},
"layer":[
{"layer":[
{"data":{"name":"F"},"encoding":{"xOffset":{"field":"s","type":"nominal","scale":{"type":"point","padding":0,"range":[-13,7]}},"color":{"field":"s","type":"nominal"}},"layer":[
{"mark":{"type":"rule","strokeWidth":2.5},"encoding":{"y":{"field":"lo","type":"quantitative","scale":{"domain":[1,5],"range":[1635,1119.3],"zero":false,"nice":false},"axis":{"orient":"left","title":"Spike IgG ELU/mL (log₁₀)","format":"d","values":[1,2,3,4,5],"offset":-2034.3,"labelPadding":8,"titlePadding":24}},"y2":{"field":"hi"}}},
{"mark":{"type":"tick","orient":"horizontal","size":21,"thickness":2.5},"encoding":{"y":{"field":"lo","type":"quantitative"}}},
{"mark":{"type":"tick","orient":"horizontal","size":21,"thickness":2.5},"encoding":{"y":{"field":"hi","type":"quantitative"}}},
{"mark":{"type":"line","strokeWidth":3},"encoding":{"y":{"field":"g","type":"quantitative"}}},
{"mark":{"type":"point","filled":true,"strokeWidth":0},"encoding":{"y":{"field":"g","type":"quantitative"},"color":null,"fill":{"field":"s","type":"nominal","scale":{"range":["#FFA040","#00BF00","#0000FF","#FF4040"]}},"shape":{"field":"s","type":"nominal"},"size":{"field":"s","type":"nominal","scale":{"range":[420,580,650,560]}}}}]},
{"data":{"values":[{"day":1}]},"mark":{"type":"point","shape":"M-.397 .187L-.123 .421L.397 -.187L.123 -.421Z","filled":true,"fill":"#F08C28","strokeWidth":0,"size":5184,"xOffset":33},"encoding":{"y":{"datum":1.3,"type":"quantitative"}}},
{"data":{"values":[{"day":1}]},"mark":{"type":"point","shape":"M-.85 1L-.358 .418M-.161 .389L.65 -.56L.4535 -.73L-.359 .22M.5525 -.646L.8125 -.95M.904 -.872L.721 -1.028M.7 -.516L.4 -.776","filled":false,"stroke":"#666666","strokeWidth":1.3,"size":5184,"xOffset":33},"encoding":{"y":{"datum":1.3,"type":"quantitative"}}},
{"data":{"values":[{"day":1,"n":"N = 10"},{"day":29,"n":"10"},{"day":57,"n":"9"},{"day":180,"n":"9"},{"day":365,"n":"7"}]},"mark":{"type":"text","align":"right","dx":25,"fontSize":42,"fontWeight":"bold","color":"#1A1A1A"},"encoding":{"y":{"datum":-0.311,"type":"quantitative"},"text":{"field":"n"}}},
{"mark":{"type":"text","text":"F)","dx":-142,"fontSize":50,"fontWeight":"bold","color":"#404040"},"encoding":{"x":{"datum":1,"type":"ordinal"},"y":{"datum":5.787,"type":"quantitative"}}},
{"mark":{"type":"rect","width":423,"height":65,"xOffset":-33,"cornerRadius":11,"fill":{"x1":0,"y1":0,"x2":0,"y2":1,"gradient":"linear","stops":[{"offset":0,"color":"#5CC6F5"},{"offset":0.5,"color":"#109BDC"},{"offset":1,"color":"#0A5F8C"}]}},"encoding":{"x":{"datum":57,"type":"ordinal"},"y":{"datum":6.124,"type":"quantitative"}}},
{"mark":{"type":"text","text":"GRT-R918","dx":-33,"dy":3,"fontSize":47,"fontWeight":"bold","color":"white"},"encoding":{"x":{"datum":57,"type":"ordinal"},"y":{"datum":6.124,"type":"quantitative"}}},
{"mark":{"type":"text","text":"With Prior SARS-CoV-2 Vaccination","align":"left","dx":-224,"baseline":"alphabetic","font":"Lato","fontSize":58,"fontWeight":"bold","color":"#139B9B"},"encoding":{"x":{"datum":1,"type":"ordinal"},"y":{"datum":6.481,"type":"quantitative"}}}
]},
{"data":{"name":"F"},"mark":{"type":"text","dx":-12,"fontSize":23,"font":"Lato","fontWeight":"bold"},"encoding":{"y":{"field":"s","type":"nominal","scale":{"type":"point","padding":0,"range":[1033.3,1129.6]},"axis":null},"text":{"field":"gmt","type":"nominal"},"color":{"field":"s","type":"nominal","scale":{"range":["#FF9F40","#00C000","#0000FF","#FF0000"]}}}},
{"mark":{"type":"point","opacity":0},"encoding":{"x":{"datum":1,"type":"ordinal"},"y":{"datum":1,"type":"quantitative","scale":{"domain":[1,5],"range":[1635,1119.3]},"axis":{"orient":"right","title":"ND₅₀ Titer (log₁₀)","values":[1,2,3,4,5],"offset":-110.7,"labelPadding":13,"titlePadding":33}}}}
],"resolve":{"scale":{"y":"independent","color":"independent"},"axis":{"y":"independent"}}},

{"data":{"values":[{"s":"IgG"},{"s":"nAb Beta"},{"s":"nAb Delta"},{"s":"nAb Omicron BA.1"}]},"mark":{"type":"point","filled":true,"size":0,"strokeWidth":0},"encoding":{"fill":{"field":"s","type":"nominal","scale":{"range":["#FFA040","#00BF00","#0000FF","#FF4040"]},"legend":{"disable":false,"orient":"none","legendX":669,"legendY":1818,"direction":"horizontal","title":null,"symbolSize":4624,"labelFontSize":48,"labelColor":"#404040","labelFont":"Liberation Sans","labelLimit":700,"columnPadding":128,"labelOffset":8,"symbolStrokeWidth":0,"gridAlign":"none","padding":0,"columns":4}},"shape":{"field":"s","type":"nominal","scale":{"range":["M-1 -.09H1V.09H-1ZM-.5 0A.5 .5 0 1 1 .5 0A.5 .5 0 1 1 -.5 0Z","M-1 -.09H1V.09H-1ZM-.52 -.52H.52V.52H-.52Z","M-1 -.09H1V.09H-1ZM0 -.6L.52 .5H-.52Z","M-1 -.09H1V.09H-1ZM0 -.6L.5 0L0 .6L-.5 0Z"]},"legend":{"disable":false}}}}
],
"resolve":{"scale":{"x":"independent","y":"independent","xOffset":"independent","color":"independent","fill":"independent","shape":"independent","size":"independent"},"axis":{"x":"independent","y":"independent"},"legend":{"fill":"independent","shape":"independent","color":"independent","size":"independent"}}}
